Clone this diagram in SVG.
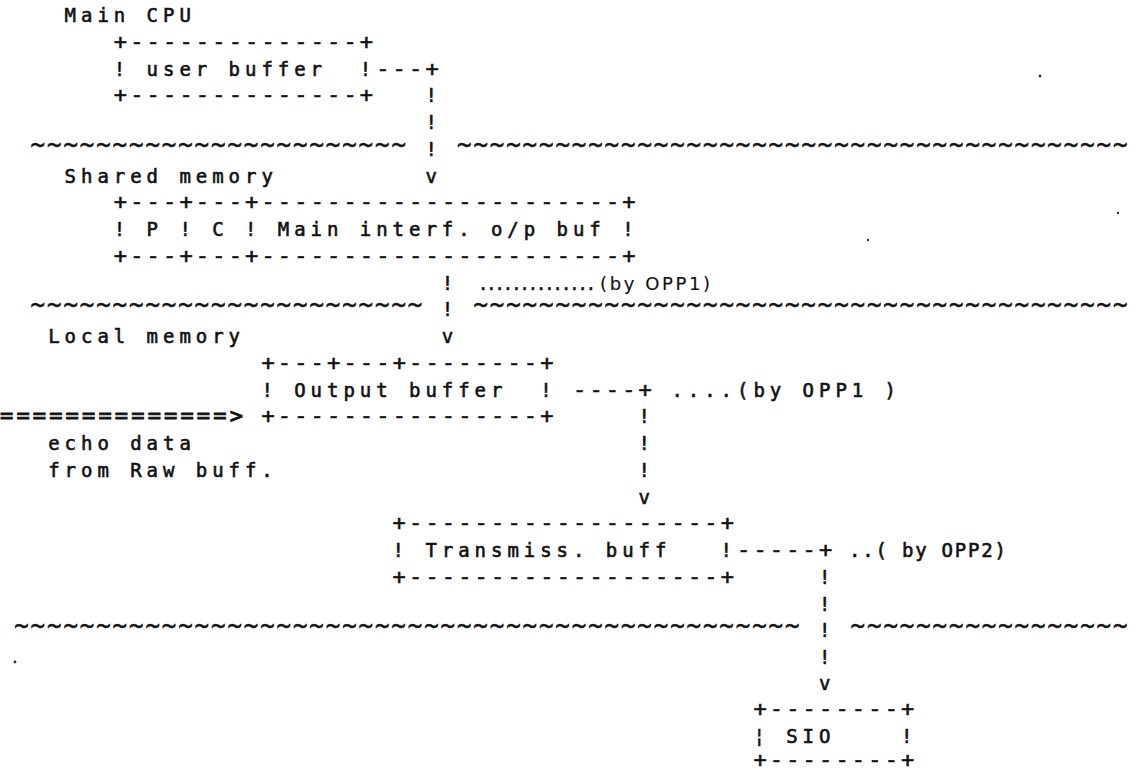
<svg xmlns="http://www.w3.org/2000/svg" width="1140" height="770" viewBox="0 0 1140 770">
  <style>
    /* line-printer text: 16.4px column pitch, 26.75px row pitch */
    text { font-family: "DejaVu Sans Mono", "Liberation Mono", monospace; font-size: 19px; letter-spacing: 4.96px; fill: #121212; stroke: #121212; stroke-width: 0.6px; white-space: pre; }
    .rule { font-size: 22px; letter-spacing: 3.16px; }
    .wave { font-size: 24px; letter-spacing: 1.95px; }
    .eq { font-size: 22px; letter-spacing: 3.16px; stroke-width: 0.9px; }
    .dots { font-size: 17px; letter-spacing: 0; stroke-width: 0.5px; }
    .thin { font-family: "DejaVu Sans", "Liberation Sans", sans-serif; font-size: 18px; letter-spacing: 0; stroke-width: 0.15px; }
    .fit { letter-spacing: 0; }
    .speck { fill: #333333; }
  </style>
  <rect width="1140" height="770" fill="#ffffff"/>

  <!-- memory region labels and separators -->
  <g id="regions">
    <text x="64.6" y="22" xml:space="preserve">Main CPU</text>
    <text class="wave" x="30.6" y="152.75" xml:space="preserve">~~~~~~~~~~~~~~~~~~~~~~~</text>
    <text class="wave" x="457" y="152.75" xml:space="preserve">~~~~~~~~~~~~~~~~~~~~~~~~~~~~~~~~~~~~~~~~~</text>
    <text x="64.6" y="182.5" xml:space="preserve">Shared memory</text>
    <text class="wave" x="30.6" y="313.25" xml:space="preserve">~~~~~~~~~~~~~~~~~~~~~~~~</text>
    <text class="wave" x="473.4" y="313.25" xml:space="preserve">~~~~~~~~~~~~~~~~~~~~~~~~~~~~~~~~~~~~~~~~</text>
    <text x="48.2" y="343" xml:space="preserve">Local memory</text>
    <text class="wave" x="14.2" y="634.25" xml:space="preserve">~~~~~~~~~~~~~~~~~~~~~~~~~~~~~~~~~~~~~~~~~~~~~~~~</text>
    <text class="wave" x="850.6" y="634.25" xml:space="preserve">~~~~~~~~~~~~~~~~~</text>
  </g>

  <g id="user-buffer">
    <text class="rule" x="113.8" y="48.75" xml:space="preserve">+--------------+</text>
    <text x="113.8" y="75.5" xml:space="preserve">! user buffer  !</text>
    <text class="rule" x="113.8" y="102.25" xml:space="preserve">+--------------+</text>
  </g>

  <g id="main-interface-buffer">
    <text class="rule" x="113.8" y="209.25" xml:space="preserve">+---+---+----------------------+</text>
    <text x="113.8" y="236" xml:space="preserve">! P ! C ! Main interf. o/p buf !</text>
    <text class="rule" x="113.8" y="262.75" xml:space="preserve">+---+---+----------------------+</text>
  </g>

  <g id="output-buffer">
    <text class="rule" x="261.4" y="369.75" xml:space="preserve">+---+---+--------+</text>
    <text x="261.4" y="396.5" xml:space="preserve">! Output buffer  !</text>
    <text class="rule" x="261.4" y="423.25" xml:space="preserve">+----------------+</text>
  </g>

  <g id="echo-data">
    <text class="eq" x="0" y="423.25" xml:space="preserve">==============&gt;</text>
    <text x="48.2" y="450" xml:space="preserve">echo data</text>
    <text x="48.2" y="476.75" xml:space="preserve">from Raw buff.</text>
  </g>

  <g id="transmission-buffer">
    <text class="rule" x="392.6" y="530.25" xml:space="preserve">+-------------------+</text>
    <text x="392.6" y="557" xml:space="preserve">! Transmiss. buff   !</text>
    <text class="rule" x="392.6" y="583.75" xml:space="preserve">+-------------------+</text>
  </g>

  <g id="sio">
    <text class="rule" x="753.4" y="716" xml:space="preserve">+--------+</text>
    <text x="753.4" y="742.5" xml:space="preserve">¦ SIO    !</text>
    <text class="rule" x="753.4" y="767" xml:space="preserve">+--------+</text>
  </g>

  <!-- data paths between the buffers -->
  <g id="connectors">
    <text class="rule" x="376.2" y="75.5" xml:space="preserve">---+</text>
    <text x="425.4" y="102.25">!</text>
    <text x="425.4" y="129">!</text>
    <text x="425.4" y="155.75">!</text>
    <text x="425.4" y="182.5">v</text>

    <text x="441.8" y="289.5">!</text>
    <text x="441.8" y="316.25">!</text>
    <text x="441.8" y="343">v</text>
    <text class="dots" x="478" y="289.5" textLength="118" lengthAdjust="spacing" xml:space="preserve">..............</text>
    <text class="thin" x="600" y="289.5" textLength="110" lengthAdjust="spacing" xml:space="preserve">(by OPP1)</text>

    <text class="rule" x="573" y="396.5" xml:space="preserve">----+</text>
    <text x="671.4" y="396.5" xml:space="preserve">....(by OPP1 )</text>
    <text x="638.6" y="423.25">!</text>
    <text x="638.6" y="450">!</text>
    <text x="638.6" y="476.75">!</text>
    <text x="638.6" y="503.5">v</text>

    <text class="rule" x="737" y="557" xml:space="preserve">-----+</text>
    <text class="fit" x="849" y="557" textLength="157" lengthAdjust="spacing" xml:space="preserve">..( by OPP2)</text>
    <text x="819" y="583.75">!</text>
    <text x="819" y="610.5">!</text>
    <text x="819" y="637.25">!</text>
    <text x="819" y="664">!</text>
    <text x="819" y="689.5">v</text>
  </g>

  <!-- stray printer specks -->
  <g id="specks">
    <circle class="speck" cx="1040" cy="76" r="1.4"/>
    <circle class="speck" cx="1118" cy="213" r="1.2"/>
    <circle class="speck" cx="868" cy="240" r="1.2"/>
    <circle class="speck" cx="15" cy="662" r="1.4"/>
  </g>
</svg>
